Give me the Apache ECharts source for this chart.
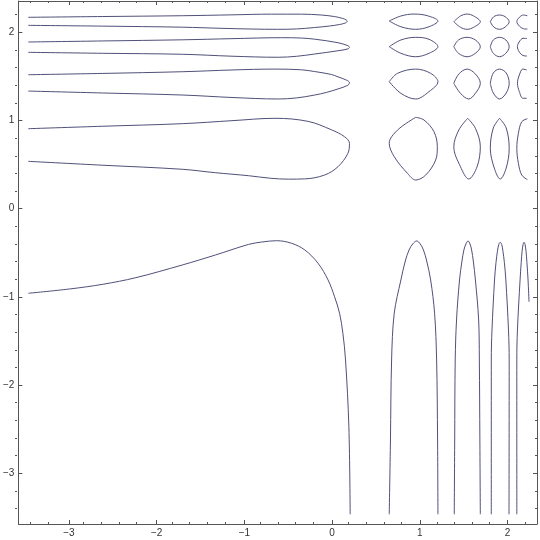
<!DOCTYPE html>
<html><head><meta charset="utf-8">
<script src="https://cdn.jsdelivr.net/npm/echarts@6/dist/echarts.min.js"></script>
<style>html,body{margin:0;padding:0;background:#fff}#c{width:540px;height:540px}</style>
</head><body><div id="c"></div>
<script>
// Axis ranges (frame) and tick values
const xRange = [-3.575, 2.335];
const yRange = [-3.575, 2.355];
const majorTicks = [-3, -2, -1, 0, 1, 2];
const minorTicks = [-3.4, -3.2, -2.8, -2.6, -2.4, -2.2, -1.8, -1.6, -1.4, -1.2, -0.8, -0.6, -0.4, -0.2, 0.2, 0.4, 0.6, 0.8, 1.2, 1.4, 1.6, 1.8, 2.2];

// Contour curves: [x, y]
const lobe1 = [[-3.462,2.170],[-2.613,2.179],[-1.707,2.188],[-1.141,2.198],[-0.688,2.206],[-0.349,2.206],[-0.122,2.196],[0.025,2.179],[0.115,2.159],[0.161,2.140],[0.172,2.125],[0.149,2.105],[0.082,2.088],[-0.032,2.071],[-0.202,2.054],[-0.405,2.038],[-0.620,2.034],[-0.915,2.037],[-1.255,2.045],[-1.707,2.058],[-2.613,2.070],[-3.462,2.079]];
const lobe2 = [[-3.462,1.890],[-2.613,1.902],[-1.707,1.915],[-1.141,1.928],[-0.575,1.939],[-0.349,1.935],[-0.198,1.922],[0.067,1.882],[0.180,1.848],[0.198,1.830],[0.180,1.812],[0.067,1.791],[-0.198,1.754],[-0.405,1.728],[-0.613,1.717],[-1.141,1.729],[-1.707,1.751],[-2.613,1.762],[-3.462,1.773]];
const lobe3 = [[-3.462,1.519],[-2.613,1.534],[-1.707,1.553],[-1.141,1.573],[-0.651,1.583],[-0.349,1.575],[-0.198,1.555],[-0.009,1.522],[0.067,1.495],[0.161,1.459],[0.198,1.430],[0.180,1.400],[0.067,1.358],[-0.066,1.318],[-0.198,1.289],[-0.405,1.256],[-0.613,1.244],[-1.141,1.261],[-1.707,1.289],[-2.613,1.312],[-3.462,1.334]];
const lobe4 = [[-3.462,0.907],[-2.613,0.935],[-1.707,0.964],[-1.141,0.998],[-0.651,1.025],[-0.273,0.990],[-0.009,0.895],[0.142,0.816],[0.198,0.741],[0.180,0.628],[0.067,0.476],[-0.085,0.382],[-0.311,0.338],[-0.500,0.335],[-0.700,0.345],[-0.952,0.374],[-1.330,0.408],[-1.707,0.447],[-2.613,0.493],[-3.462,0.537]];
const lowerLeft = [[-3.462,-0.959],[-2.990,-0.910],[-2.613,-0.857],[-2.236,-0.782],[-1.707,-0.638],[-1.330,-0.525],[-0.952,-0.405],[-0.802,-0.378],[-0.632,-0.363],[-0.462,-0.392],[-0.311,-0.468],[-0.160,-0.619],[-0.046,-0.808],[0.028,-0.998],[0.085,-1.186],[0.123,-1.413],[0.153,-1.715],[0.191,-2.472],[0.206,-3.465]];

const ovalC1R1 = [[0.651,2.128],[0.784,2.185],[0.934,2.207],[1.086,2.188],[1.206,2.128],[1.104,2.063],[0.953,2.034],[0.784,2.063],[0.651,2.128]];
const ovalC1R2 = [[0.651,1.837],[0.784,1.913],[0.953,1.943],[1.104,1.921],[1.206,1.837],[1.104,1.762],[0.953,1.723],[0.784,1.762],[0.651,1.837]];
const ovalC1R3 = [[0.651,1.440],[0.746,1.535],[0.953,1.583],[1.123,1.535],[1.206,1.440],[1.104,1.327],[0.953,1.244],[0.784,1.308],[0.651,1.440]];
const ovalC1R4 = [[0.953,1.036],[0.746,0.892],[0.651,0.741],[0.708,0.590],[0.859,0.401],[0.953,0.325],[1.067,0.382],[1.180,0.552],[1.199,0.703],[1.161,0.873],[1.047,1.006],[0.953,1.036]];
const ovalC2R1 = [[1.387,2.120],[1.463,2.185],[1.539,2.207],[1.613,2.185],[1.689,2.120],[1.613,2.057],[1.539,2.034],[1.463,2.057],[1.387,2.120]];
const ovalC2R2 = [[1.387,1.837],[1.440,1.913],[1.539,1.943],[1.633,1.913],[1.689,1.837],[1.633,1.762],[1.539,1.723],[1.440,1.762],[1.387,1.837]];
const ovalC2R3 = [[1.387,1.422],[1.444,1.527],[1.539,1.583],[1.633,1.527],[1.689,1.422],[1.633,1.308],[1.557,1.244],[1.463,1.308],[1.387,1.422]];
const ovalC2R4 = [[1.545,1.025],[1.444,0.892],[1.387,0.703],[1.463,0.476],[1.557,0.337],[1.652,0.476],[1.689,0.703],[1.633,0.912],[1.545,1.025]];
const ovalC3R1 = [[1.803,2.120],[1.842,2.177],[1.908,2.196],[1.972,2.177],[2.018,2.120],[1.972,2.060],[1.908,2.034],[1.842,2.060],[1.803,2.120]];
const ovalC3R2 = [[1.803,1.837],[1.837,1.913],[1.908,1.943],[1.980,1.913],[2.018,1.837],[1.980,1.762],[1.908,1.723],[1.837,1.762],[1.803,1.837]];
const ovalC3R3 = [[1.803,1.422],[1.837,1.539],[1.908,1.583],[1.984,1.539],[2.018,1.422],[1.984,1.312],[1.908,1.244],[1.837,1.312],[1.803,1.422]];
const ovalC3R4 = [[1.908,1.025],[1.837,0.915],[1.803,0.685],[1.848,0.461],[1.916,0.337],[1.984,0.461],[2.018,0.685],[1.984,0.915],[1.908,1.025]];
const arcC4R1 = [[2.225,2.188],[2.180,2.196],[2.134,2.170],[2.105,2.120],[2.134,2.071],[2.180,2.041],[2.225,2.037]];
const arcC4R2 = [[2.221,1.930],[2.176,1.932],[2.131,1.890],[2.112,1.837],[2.131,1.780],[2.176,1.737],[2.221,1.731]];
const arcC4R3 = [[2.218,1.573],[2.173,1.583],[2.134,1.516],[2.112,1.422],[2.134,1.327],[2.173,1.252],[2.218,1.252]];
const arcC4R4 = [[2.225,1.020],[2.161,0.986],[2.123,0.855],[2.105,0.685],[2.123,0.515],[2.161,0.382],[2.225,0.330]];

const arch1 = [[0.651,-3.465],[0.665,-2.622],[0.678,-1.715],[0.708,-1.186],[0.784,-0.808],[0.834,-0.593],[0.877,-0.468],[0.919,-0.399],[0.965,-0.366],[1.004,-0.399],[1.041,-0.468],[1.078,-0.593],[1.123,-0.808],[1.168,-1.186],[1.191,-1.715],[1.202,-2.622],[1.206,-3.465]];
const arch2 = [[1.392,-3.465],[1.397,-2.622],[1.403,-1.715],[1.418,-1.262],[1.452,-0.808],[1.480,-0.593],[1.502,-0.468],[1.525,-0.399],[1.550,-0.366],[1.571,-0.399],[1.590,-0.468],[1.609,-0.593],[1.633,-0.808],[1.670,-1.262],[1.678,-1.715],[1.684,-2.622],[1.689,-3.465]];
const arch3 = [[1.814,-3.465],[1.814,-1.715],[1.822,-1.376],[1.851,-0.808],[1.868,-0.608],[1.884,-0.483],[1.899,-0.407],[1.916,-0.381],[1.933,-0.407],[1.947,-0.483],[1.963,-0.608],[1.980,-0.808],[2.010,-1.376],[2.018,-1.715],[2.016,-3.465]];
const arch4 = [[2.105,-3.465],[2.105,-1.715],[2.112,-1.376],[2.142,-0.808],[2.155,-0.608],[2.165,-0.483],[2.176,-0.407],[2.187,-0.381],[2.199,-0.407],[2.210,-0.483],[2.220,-0.608],[2.233,-0.808],[2.244,-1.054]];

const curves = [lobe1, lobe2, lobe3, lobe4, lowerLeft,
  ovalC1R1, ovalC1R2, ovalC1R3, ovalC1R4,
  ovalC2R1, ovalC2R2, ovalC2R3, ovalC2R4,
  ovalC3R1, ovalC3R2, ovalC3R3, ovalC3R4,
  arcC4R1, arcC4R2, arcC4R3, arcC4R4,
  arch1, arch2, arch3, arch4];

const lineColor = '#50507a';
const frameColor = '#555555';
const labelColor = '#333333';
const fmt = v => String(v).replace('-', '\u2212');

function axis(position, range, ticks, len, withLine, withLabels, gridIndex) {
  return {
    type: 'value', position, min: range[0], max: range[1], gridIndex,
    axisLine: { show: withLine, onZero: false, lineStyle: { color: frameColor, width: 1 } },
    axisTick: { show: true, inside: true, length: len, customValues: ticks, lineStyle: { color: frameColor, width: 1 } },
    axisLabel: withLabels ? { show: true, customValues: ticks, formatter: fmt, color: labelColor,
      fontSize: 10, fontFamily: 'Liberation Sans, Arial, sans-serif', margin: 4 } : { show: false },
    splitLine: { show: false }
  };
}

const chart = echarts.init(document.getElementById('c'), null, { renderer: 'canvas' });
chart.setOption({
  animation: false,
  backgroundColor: '#ffffff',
  grid: [
    { left: 15, top: 1, width: 522, height: 523 },
    { left: 15, top: 1, width: 522, height: 523 }
  ],
  xAxis: [
    axis('bottom', xRange, majorTicks, 4, true, true, 0),
    axis('top', xRange, majorTicks, 4, true, false, 0),
    axis('bottom', xRange, minorTicks, 2, false, false, 1),
    axis('top', xRange, minorTicks, 2, false, false, 1)
  ],
  yAxis: [
    axis('left', yRange, majorTicks, 4, true, true, 0),
    axis('right', yRange, majorTicks, 4, true, false, 0),
    axis('left', yRange, minorTicks, 2, false, false, 1),
    axis('right', yRange, minorTicks, 2, false, false, 1)
  ],
  series: curves.map(c => ({
    type: 'line', xAxisIndex: 0, yAxisIndex: 0, data: c,
    showSymbol: false, symbol: 'none', smooth: 0.35, silent: true,
    lineStyle: { color: lineColor, width: 1 }
  }))
});
</script></body></html>
